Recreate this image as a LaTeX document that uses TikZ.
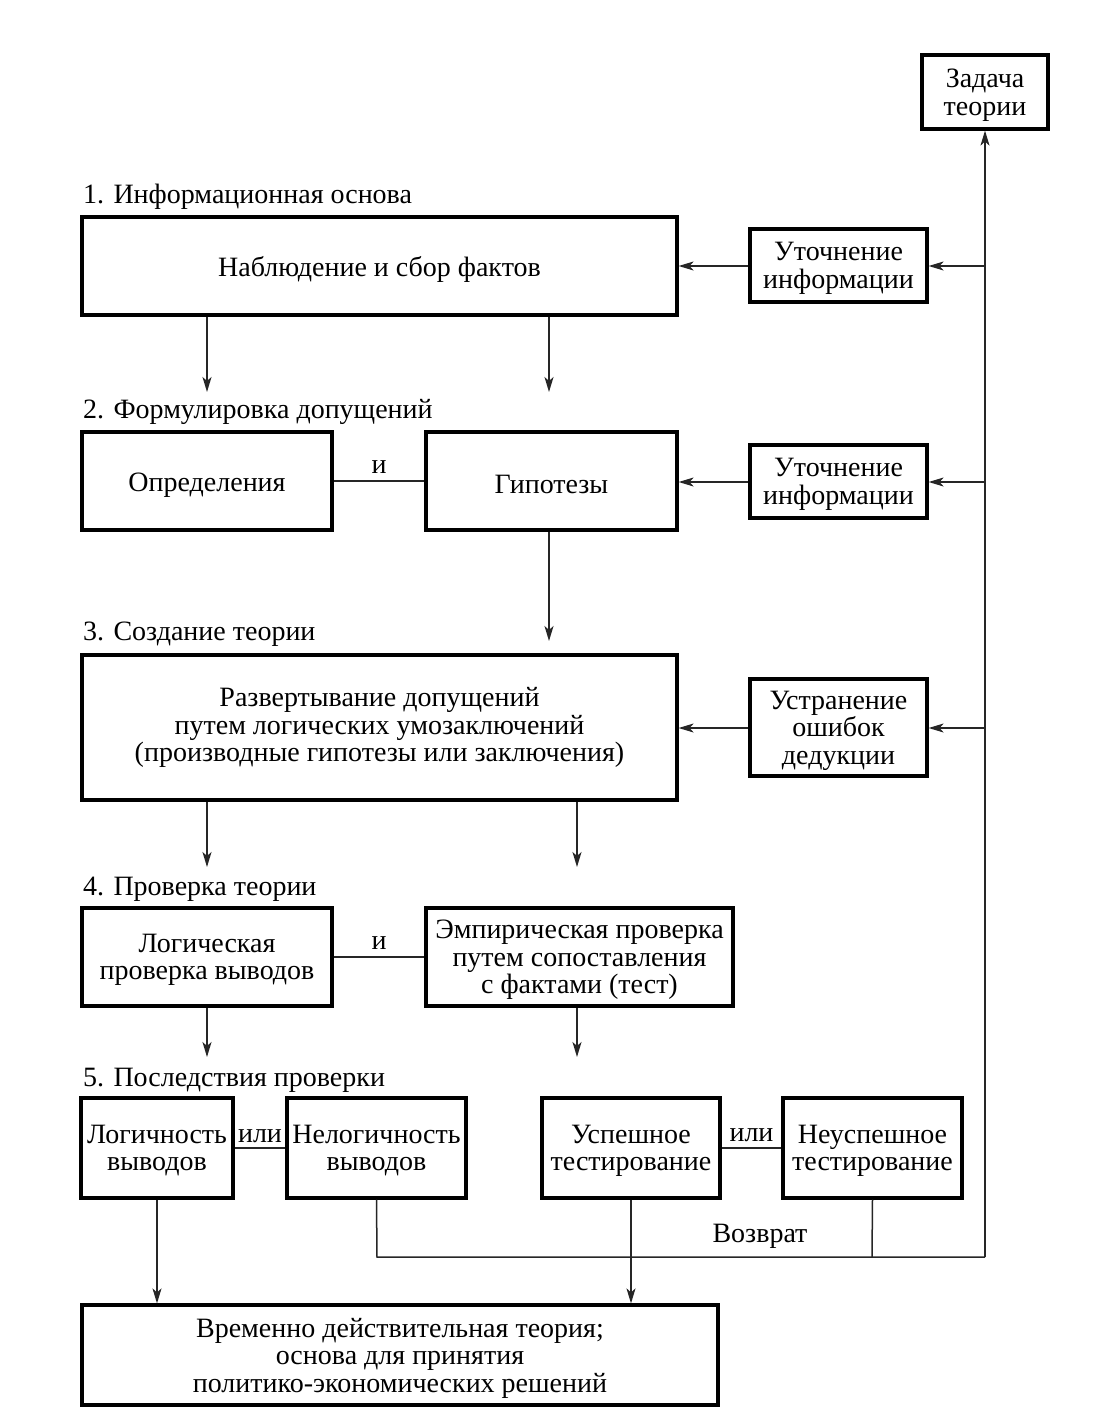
\documentclass[tikz,border=0pt]{standalone}
\usepackage{fontspec}
\setmainfont{Liberation Serif}
\usetikzlibrary{arrows.meta}
\begin{document}
\begin{tikzpicture}[x=1pt,y=-1pt,
  box/.style={draw=black,line width=3.2pt,align=center,inner sep=2pt,
    font=\fontsize{28}{27.5}\selectfont},
  one/.style={execute at begin node={\rule{0pt}{26pt}}},
  ml/.style={text depth=-3pt},
  lbl/.style={inner sep=0pt,font=\fontsize{28}{27.5}\selectfont},
  conn/.style={draw=black!85,line width=1.5pt},
  arr/.style={conn,-{Stealth[length=15pt,width=9pt,inset=4pt]}}]
\useasboundingbox (0,0) rectangle (1118,1427);
\fill[white] (0,0) rectangle (1118,1427);

% boxes
\node[box,ml,minimum width=126,minimum height=74] (zad) at (985,92) {Задача\\теории};
\node[box,one,minimum width=595,minimum height=98] (nab) at (379.5,266) {Наблюдение и сбор фактов};
\node[box,ml,minimum width=177,minimum height=73] (ut1) at (838.5,265.5) {Уточнение\\информации};
\node[box,one,minimum width=250,minimum height=98] (opr) at (207,481) {Определения};
\node[box,one,minimum width=251,minimum height=98] (gip) at (551.5,481) {Гипотезы};
\node[box,ml,minimum width=177,minimum height=73] (ut2) at (838.5,481.5) {Уточнение\\информации};
\node[box,minimum width=595,minimum height=145] (raz) at (379.5,727.5) {Развертывание допущений\\путем логических умозаключений\\(производные гипотезы или заключения)};
\node[box,ml,minimum width=177,minimum height=97] (ust) at (838.5,727.5) {Устранение\\ошибок\\дедукции};
\node[box,ml,minimum width=250,minimum height=98] (log) at (207,957) {Логическая\\проверка выводов};
\node[box,ml,minimum width=307,minimum height=98] (emp) at (579.5,957) {Эмпирическая проверка\\путем сопоставления\\с фактами (тест)};
\node[box,ml,minimum width=152,minimum height=100,inner sep=0pt] (lgc) at (157,1148) {Логичность\\выводов};
\node[box,ml,minimum width=179,minimum height=100,inner sep=0pt] (nlg) at (376.5,1148) {Нелогичность\\выводов};
\node[box,ml,minimum width=178,minimum height=100,inner sep=0pt] (usp) at (631,1148) {Успешное\\тестирование};
\node[box,ml,minimum width=179,minimum height=100,inner sep=0pt] (nusp) at (872.5,1148) {Неуспешное\\тестирование};
\node[box,ml,minimum width=636,minimum height=100] (vrem) at (400,1355) {Временно действительная теория;\\основа для принятия\\политико-экономических решений};

% section titles
\node[lbl,anchor=base west] (t1) at (83,203) {1. Информационная основа};
\node[lbl,anchor=base west] (t2) at (83,418) {2. Формулировка допущений};
\node[lbl,anchor=base west] (t3) at (83,640) {3. Создание теории};
\node[lbl,anchor=base west] (t4) at (83,895) {4. Проверка теории};
\node[lbl,anchor=base west] (t5) at (83,1086) {5. Последствия проверки};

% free-end coordinates
\coordinate (a1) at (207,392);
\coordinate (a2) at (549,392);
\coordinate (a3) at (207,867);
\coordinate (a4) at (577,867);
\coordinate (a5) at (207,1057);
\coordinate (a6) at (577,1057);
\coordinate (a7) at (549,641);
\coordinate (bl) at (985,1257);
\coordinate (b1) at (985,266);
\coordinate (b2) at (985,482);
\coordinate (b3) at (985,728);
\coordinate (c1) at (377,1257);
\coordinate (c2) at (872,1257);

% main return line
\draw[arr] (bl) -- (zad.south);
\draw[arr] (b1) -- (ut1.east |- b1);
\draw[arr] (ut1.west |- b1) -- (nab.east |- b1);
\draw[arr] (b2) -- (ut2.east |- b2);
\draw[arr] (ut2.west |- b2) -- (gip.east |- b2);
\draw[arr] (b3) -- (ust.east |- b3);
\draw[arr] (ust.west |- b3) -- (raz.east |- b3);

% downward arrows
\draw[arr] (nab.south -| a1) -- (a1);
\draw[arr] (nab.south -| a2) -- (a2);
\draw[arr] (gip.south -| a7) -- (a7);
\draw[arr] (raz.south -| a3) -- (a3);
\draw[arr] (raz.south -| a4) -- (a4);
\draw[arr] (log.south -| a5) -- (a5);
\draw[arr] (emp.south -| a6) -- (a6);

% "and"/"or" links
\draw[conn] (opr.east) -- node[lbl,above=7pt] (i1) {и} (gip.west);
\draw[conn] (log.east) -- node[lbl,above=7pt] (i2) {и} (log.east -| emp.west);
\draw[conn] (lgc.east) -- node[lbl,above=4pt] (o1) {или} (nlg.west);
\draw[conn] (usp.east) -- node[lbl,above=5pt] (o2) {или} (nusp.west);

% consequences
\draw[arr] (lgc.south) -- (lgc.south |- vrem.north);
\draw[arr] (usp.south) -- (usp.south |- vrem.north);
\draw[conn] (nlg.south) -- (c1) -- (bl);
\draw[conn] (nusp.south) -- (c2);
\node[lbl] (voz) at (760,1236) {Возврат};
\end{tikzpicture}
\end{document}
